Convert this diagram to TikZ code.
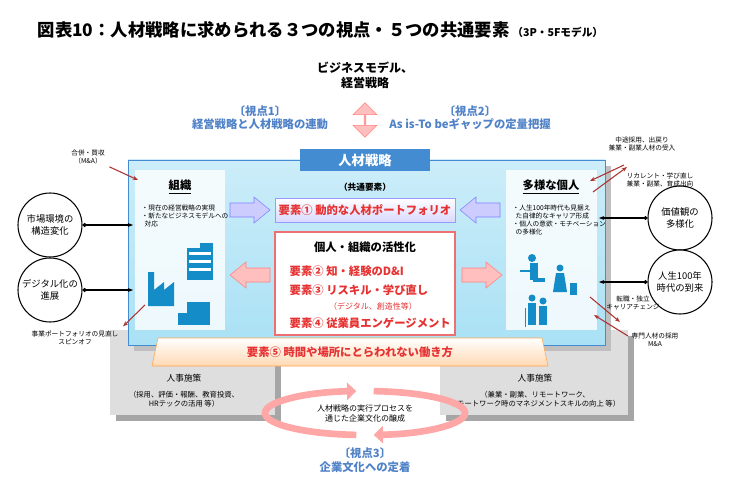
\documentclass[tikz,border=0pt]{standalone}
\usepackage{fontspec}
\setmainfont{Noto Sans CJK JP}
\usetikzlibrary{shapes.arrows,shapes.geometric}
\usetikzlibrary{arrows.meta,arrows}
\usetikzlibrary{positioning}
\definecolor{hdblue}{RGB}{68,140,210}
\definecolor{vpblue}{RGB}{80,130,200}
\definecolor{elred}{RGB}{230,50,50}
\definecolor{icon}{RGB}{20,140,200}
\definecolor{panel}{RGB}{170,225,245}
\definecolor{gbox}{RGB}{222,222,222}
\begin{document}
\begin{tikzpicture}[x=0.75pt,y=-0.75pt,font=\fontsize{6}{7}\selectfont,
  vp/.style={text=vpblue,font=\fontsize{8.5}{10}\selectfont\bfseries,align=center},
  elem/.style={text=elred,font=\fontsize{8.5}{10}\selectfont\bfseries},
  circ/.style={circle,draw=black,thick,fill=white,minimum size=48pt,align=center,font=\fontsize{7}{8.5}\selectfont,inner sep=0pt},
  note/.style={align=center,font=\fontsize{5}{6}\selectfont},
  redarr/.style={draw=red!60!black!80,thick,-{Stealth[length=4pt]}},
  link/.style={draw=black,thick,{Circle[length=3pt]}-{Stealth[length=4pt]}},
  bigarr/.pic={\path[pic actions] (-20,-7) -- (4,-7) -- (4,-13) -- (20,0) -- (4,13) -- (4,7) -- (-20,7) -- cycle;},
  icn/.style={fill=icon,draw=none}]
\useasboundingbox (0,0) rectangle (729,485);
% title
\node[anchor=west,font=\fontsize{13}{15}\selectfont\bfseries] (title) at (33,30) {図表10：人材戦略に求められる３つの視点・５つの共通要素\,{\fontsize{8}{9}\selectfont（3P・5Fモデル）}};
\node[align=center,font=\fontsize{9}{11}\selectfont\bfseries] (biz) at (365,75) {ビジネスモデル、\\経営戦略};
\node[double arrow,rotate=90,fill=red!25,draw=red!50,minimum height=26pt,minimum width=18pt,double arrow head extend=3pt,inner sep=0pt] (ud) at (365,120) {};
\node[vp] (vp1) at (260,118) {〔視点1〕\\経営戦略と人材戦略の連動};
\node[vp] (vp2) at (470,118) {〔視点2〕\\As is-To beギャップの定量把握};
% grey back boxes
\fill[black!35] (116,336) rectangle (281,421);
\fill[gbox] (110,330) rectangle (275,415);
\fill[black!35] (446,336) rectangle (634,421);
\fill[gbox] (440,330) rectangle (628,415);
\fill[black!25] (134,166) rectangle (611,351);
% main panel
\shade[top color=panel!60,bottom color=panel,draw=hdblue] (128,160) rectangle (605,345);
\node[fill=hdblue,text=white,minimum width=98pt,minimum height=17pt,font=\fontsize{10}{12}\selectfont\bfseries] (hr) at (365,160) {人材戦略};
\fill[white,opacity=.8] (135,170) rectangle (225,330);
\fill[white,opacity=.8] (506,170) rectangle (597,330);
\node[font=\fontsize{8.5}{10}\selectfont\bfseries] (org) at (180,187) {\underline{組織}};
\node[note,align=left,anchor=north west] (orgtx) at (137,200) {・現在の経営戦略の実現\\・新たなビジネスモデルへの\\\ \ 対応};
\node[font=\fontsize{8.5}{10}\selectfont\bfseries] (ind) at (551,187) {\underline{多様な個人}};
\node[note,align=left,anchor=north west] (indtx) at (508,200) {・人生100年時代も見据え\\\ \ た自律的なキャリア形成\\・個人の意欲・モチベーション\\\ \ の多様化};
\node[font=\fontsize{6.5}{8}\selectfont\bfseries] (com) at (365,187) {（共通要素）};
% element 1
\shade[top color=white,bottom color=blue!15,draw=blue!40] (275,198) rectangle (455,222);
\node[elem] (e1) at (365,210) {要素① 動的な人材ポートフォリオ};
\pic[fill=blue!20,draw=blue!50] at (250,210) {bigarr};
\pic[fill=blue!20,draw=blue!50,rotate=180] at (480,210) {bigarr};
% activation box
\draw[elred!70,fill=white,thick] (275,232) rectangle (455,335);
\node[font=\fontsize{8.5}{10}\selectfont\bfseries] (act) at (365,247) {個人・組織の活性化};
\node[elem,anchor=west] (e2) at (285,271) {要素② 知・経験のD\&I};
\node[elem,anchor=west] (e3) at (285,290) {要素③ リスキル・学び直し};
\node[text=elred,font=\fontsize{6}{7}\selectfont] (e3s) at (373,306) {（デジタル、創造性等）};
\node[elem,anchor=west] (e4) at (285,323) {要素④ 従業員エンゲージメント};
\pic[fill=red!25,draw=red!50,rotate=180] at (250,275) {bigarr};
\pic[fill=red!25,draw=red!50] at (482,275) {bigarr};
% element 5 banner
\shade[top color=white,bottom color=orange!30,draw=orange!70] (158,338) -- (542,338) -- (548,366) -- (152,366) -- cycle;
\node[elem] (e5) at (350,352) {要素⑤ 時間や場所にとらわれない働き方};
% HR measures
\node[align=center,font=\fontsize{6.5}{8}\selectfont] (hl) at (184,378) {人事施策};
\node[note,font=\fontsize{5.5}{6.5}\selectfont] (hlt) at (184,399) {（採用、評価・報酬、教育投資、\\HRテックの活用 等）};
\node[align=center,font=\fontsize{6.5}{8}\selectfont] (hr2) at (535,378) {人事施策};
\node[note,font=\fontsize{5.5}{6.5}\selectfont] (hrt) at (535,399) {（兼業・副業、リモートワーク、\\リモートワーク時のマネジメントスキルの向上 等）};
% culture cycle
\draw[red!35,line width=5pt,-{Triangle[length=7pt,width=13pt]}] (365,413) ++(95:100 and 22) arc[start angle=95,end angle=265,x radius=100,y radius=22];
\draw[red!35,line width=5pt,-{Triangle[length=7pt,width=13pt]}] (365,413) ++(275:100 and 22) arc[start angle=275,end angle=445,x radius=100,y radius=22];
\node[align=center,font=\fontsize{6}{7.5}\selectfont] (cyc) at (365,413) {人材戦略の実行プロセスを\\通じた企業文化の醸成};
\node[vp] (vp3) at (365,460) {〔視点3〕\\企業文化への定着};
% outer circles
\node[circ] (mkt) at (50,225) {市場環境の\\構造変化};
\node[circ] (dig) at (50,290) {デジタル化の\\進展};
\node[circ] (val) at (680,218) {価値観の\\多様化};
\node[circ] (life) at (680,282) {人生100年\\時代の到来};
\draw[link] (mkt) -- (133,225);
\draw[link] (dig) -- (133,290);
\draw[link] (val) -- (599,218);
\draw[link] (life) -- (599,282);
% red notes
\node[note] (ma) at (88,157) {合併・買収\\（M\&A）};
\draw[redarr] (ma) -- (138,180);
\node[note] (pf) at (75,338) {事業ポートフォリオの見直し\\スピンオフ};
\coordinate (pfs) at (145,305);
\draw[redarr] (pfs) -- (pf.north east);
\node[note] (mid) at (642,144) {中途採用、出戻り\\兼業・副業人材の受入};
\draw[redarr] (624,165) -- (590,181);
\node[note] (rec) at (660,180) {リカレント・学び直し\\兼業・副業、育成出向};
\coordinate (recs) at (593,192);
\draw[redarr] (recs) -- (627,167);
\node[note] (chg) at (633,303) {転職・独立\\キャリアチェンジ};
\coordinate (chgs) at (590,297);
\draw[redarr] (chgs) -- (620,322);
\node[note] (pro) at (655,340) {専門人材の採用\\M\&A};
\draw[redarr] (628,336) -- (594,315);
% icons (organisation)
\fill[icn] (187,248) rectangle (200,280);
\fill[icn] (200,243) rectangle (213,280);
\fill[icn] (148,272) rectangle (154,306) -- (154,290) -- (164,282) -- (164,290) -- (174,282) -- (174,306) -- cycle;
\fill[icn] (148,290) rectangle (174,306);
\fill[icn] (187,302) rectangle (210,325);
\fill[icn] (178,313) rectangle (187,325);
\foreach \yy in {252,260,268} {\fill[white] (189,\yy) rectangle (211,\yy+3);}
% icons (people)
\fill[icn] (520,270) rectangle (535,272);
\fill[icn] (532,258) circle (4);
\fill[icn] (530,263) rectangle (538,280);
\fill[icn] (533,278) rectangle (545,282);
\fill[icn] (560,268) circle (3.5);
\fill[icn] (556,273) -- (564,273) -- (567,292) -- (553,292) -- cycle;
\fill[icn] (570,283) rectangle (577,295);
\fill[icn] (532,298) circle (3.5);
\fill[icn] (528,303) rectangle (536,325);
\fill[icn] (543,301) circle (3.5);
\fill[icn] (539,306) rectangle (547,325);
\draw[icn,draw=icon] (525,308) -- (525,327);
\end{tikzpicture}
\end{document}
